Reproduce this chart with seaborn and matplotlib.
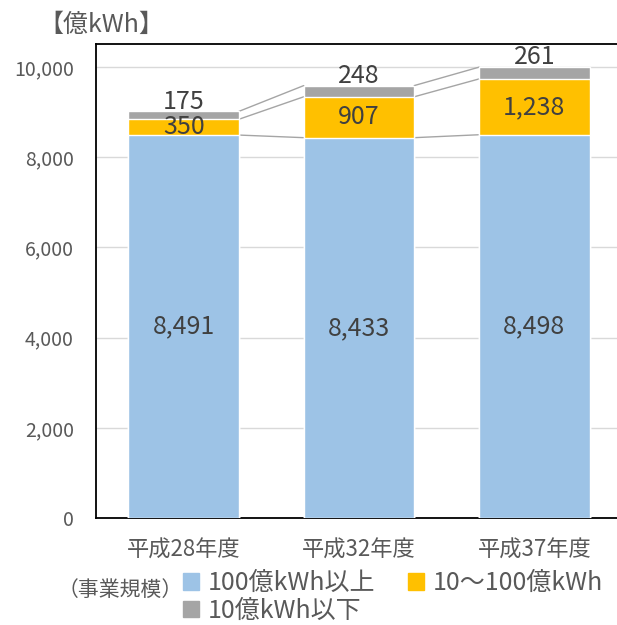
import matplotlib
matplotlib.use("Agg")
import matplotlib.pyplot as plt
import seaborn as sns
import pandas as pd

years = ["平成28年度", "平成32年度", "平成37年度"]
large = [8491, 8433, 8498]     # 100億kWh以上
middle = [350, 907, 1238]      # 10～100億kWh
small = [175, 248, 261]        # 10億kWh以下
series_names = ["100億kWh以上", "10～100億kWh", "10億kWh以下"]
colors = ["#9DC3E6", "#FFC000", "#A5A5A5"]

sns.set_style("white")
plt.rcParams["font.family"] = ["Noto Sans CJK JP", "DejaVu Sans"]

df = pd.DataFrame({"year": years, "large": large, "middle": middle, "small": small})
df["c1"] = df["large"]
df["c2"] = df["large"] + df["middle"]
df["c3"] = df["c2"] + df["small"]

fig = plt.figure(figsize=(6.17, 6.25), dpi=100)
ax = fig.add_axes([96 / 617, 1 - 518 / 625, (622 - 96) / 617, (518 - 44) / 625])

bw = 0.63
# draw cumulative totals back to front
sns.barplot(data=df, x="year", y="c3", color=colors[2], width=bw, saturation=1, ax=ax, zorder=3)
sns.barplot(data=df, x="year", y="c2", color=colors[1], width=bw, saturation=1, ax=ax, zorder=3)
sns.barplot(data=df, x="year", y="c1", color=colors[0], width=bw, saturation=1, ax=ax, zorder=3)

# series lines between bars
for col in ["c1", "c2", "c3"]:
    for i in range(len(years) - 1):
        ax.plot([i + bw / 2, i + 1 - bw / 2], [df[col][i], df[col][i + 1]],
                color="#A5A5A5", lw=1, zorder=2)

txt = "#404040"
for i in range(len(years)):
    ax.text(i, df["large"][i] / 2, f"{df['large'][i]:,}", ha="center", va="center",
            fontsize=18, color=txt, zorder=5)
    ax.text(i, df["large"][i] + df["middle"][i] / 2, f"{df['middle'][i]:,}", ha="center",
            va="center", fontsize=18, color=txt, zorder=5)
    ax.annotate(f"{df['small'][i]:,}", (i, df["c3"][i]), xytext=(0, 2),
                textcoords="offset points", ha="center", va="baseline",
                fontsize=18, color=txt, zorder=5)

ax.set_xlim(-0.5, 2.5)
ax.set_ylim(0, 10510)
ax.set_yticks(range(0, 10001, 2000))
ax.set_yticklabels([f"{v:,}" for v in range(0, 10001, 2000)])
ax.set_xlabel("")
ax.set_ylabel("")
ax.tick_params(axis="both", length=0, colors="#595959", labelsize=14)
ax.tick_params(axis="y", pad=16)
ax.tick_params(axis="x", pad=15, labelsize=16)
for y in range(2000, 10001, 2000):
    ax.axhline(y, color="#D9D9D9", lw=1, zorder=1)
for s in ax.spines.values():
    s.set_color("black")
    s.set_linewidth(1.3)

fig.text(38 / 617, 1 - 25 / 625, "【億kWh】", fontsize=18, color="#595959", va="center", ha="left")

handles = [plt.Rectangle((0, 0), 1, 1, color=c) for c in colors]
order = [0, 2, 1]
fig.legend([handles[k] for k in order], [series_names[k] for k in order],
           loc="center left", bbox_to_anchor=(170 / 617, 1 - 597 / 625), ncol=2,
           frameon=False, fontsize=18, handlelength=0.65, handleheight=0.65,
           handletextpad=0.35, columnspacing=1.3, labelspacing=0.05,
           labelcolor="#595959", borderpad=0)
fig.text(58 / 617, 1 - 590 / 625, "（事業規模）", fontsize=15, color="#595959",
         va="center", ha="left")

fig.savefig("out.png", dpi=100)
